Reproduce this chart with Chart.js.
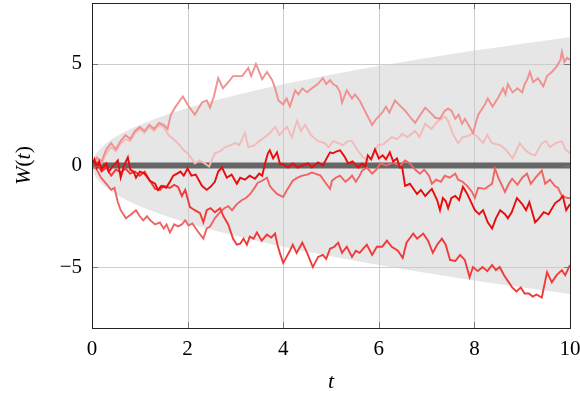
<!DOCTYPE html>
<html>
<head>
<meta charset="utf-8">
<script src="https://cdn.jsdelivr.net/npm/chart.js@4.4.1/dist/chart.umd.min.js"></script>
<style>
  html, body { margin: 0; padding: 0; background: #fff; }
</style>
</head>
<body>
<canvas id="chart" width="580" height="394"></canvas>
<script>
const xTicks = [0, 2, 4, 6, 8, 10];
const yTicks = [-5, 0, 5];

// +/- 2 sigma envelope
const bandT = [0, 0.05, 0.1, 0.25, 0.5, 0.75, 1, 1.5, 2, 2.5, 3, 4, 5, 6, 7, 8, 9, 10];
const bandUpper = [0, 0.45, 0.63, 1.0, 1.41, 1.73, 2.0, 2.45, 2.83, 3.16, 3.46, 4.0, 4.47, 4.9, 5.29, 5.66, 6.0, 6.32];
const bandLower = [0, -0.45, -0.63, -1.0, -1.41, -1.73, -2.0, -2.45, -2.83, -3.16, -3.46, -4.0, -4.47, -4.9, -5.29, -5.66, -6.0, -6.32];

const meanT = [0, 10];
const meanW = [0, 0];

// sample paths as [t, W(t)]
const pathPink = [[0,0],[0.1,0.3],[0.2,0.1],[0.3,0.6],[0.4,0.9],[0.5,0.7],[0.6,1.1],[0.7,1.3],[0.8,1.2],[0.9,1.6],[1.0,1.8],[1.1,1.6],[1.2,1.9],[1.3,1.7],[1.4,2.0],[1.5,1.9],[1.6,1.5],[1.7,1.3],[1.8,1.1],[1.9,0.8],[2.0,0.6],[2.1,0.3],[2.15,0.1],[2.25,0.25],[2.36,0.1],[2.45,-0.05],[2.57,0.6],[2.68,0.7],[2.78,0.9],[2.9,1.0],[3.0,1.1],[3.08,1.0],[3.2,1.6],[3.27,0.9],[3.4,1.0],[3.5,1.2],[3.62,1.4],[3.72,1.6],[3.83,1.9],[3.92,1.5],[4.0,1.7],[4.08,1.9],[4.18,1.4],[4.29,2.2],[4.37,1.7],[4.46,2.0],[4.58,1.5],[4.73,1.2],[4.87,1.1],[4.95,0.9],[5.05,1.2],[5.15,1.1],[5.25,1.0],[5.35,1.2],[5.44,1.2],[5.57,0.7],[5.67,0.4],[5.77,0.25],[5.87,0.4],[5.98,1.0],[6.1,1.05],[6.27,1.4],[6.38,1.3],[6.49,1.55],[6.6,1.4],[6.76,1.7],[6.85,1.4],[6.97,2.05],[7.1,1.8],[7.24,2.2],[7.38,2.4],[7.45,2.2],[7.55,1.55],[7.66,1.1],[7.76,1.4],[7.87,1.45],[7.97,1.6],[8.07,1.4],[8.18,1.1],[8.27,1.5],[8.37,1.1],[8.54,1.0],[8.65,0.8],[8.8,0.35],[8.95,1.1],[9.05,0.8],[9.15,0.6],[9.27,0.5],[9.41,1.1],[9.5,1.2],[9.58,0.9],[9.7,1.1],[9.83,1.2],[9.9,0.8],[10,0.6]];

const pathSalmon = [[0,0],[0.1,0.4],[0.2,0.2],[0.3,0.8],[0.4,1.1],[0.5,0.8],[0.6,1.2],[0.7,1.5],[0.8,1.3],[0.9,1.7],[1.0,1.9],[1.1,1.7],[1.2,2.0],[1.3,1.8],[1.4,2.1],[1.5,2.0],[1.58,1.8],[1.65,2.5],[1.75,2.9],[1.9,3.4],[2.0,3.0],[2.15,2.5],[2.3,3.1],[2.4,3.2],[2.47,2.85],[2.55,3.4],[2.64,4.3],[2.74,3.8],[2.85,4.1],[2.95,4.4],[3.05,4.4],[3.14,4.4],[3.27,4.8],[3.33,4.4],[3.43,5.0],[3.56,4.25],[3.66,4.6],[3.77,4.2],[3.83,3.8],[3.9,3.2],[4.0,3.0],[4.07,3.3],[4.14,2.9],[4.25,3.7],[4.32,3.5],[4.4,3.8],[4.5,3.6],[4.6,3.8],[4.72,4.0],[4.83,4.3],[4.9,4.0],[4.98,4.2],[5.05,4.0],[5.12,3.9],[5.19,3.6],[5.23,3.1],[5.33,3.7],[5.44,3.3],[5.5,3.5],[5.6,3.2],[5.75,2.5],[5.86,2.0],[5.95,2.3],[6.07,2.6],[6.15,2.9],[6.22,2.6],[6.34,3.2],[6.42,3.0],[6.55,2.7],[6.65,2.4],[6.76,2.1],[6.87,2.5],[6.97,2.85],[7.08,2.6],[7.18,2.35],[7.28,2.3],[7.38,2.7],[7.45,2.8],[7.52,2.7],[7.6,2.3],[7.67,2.5],[7.74,2.05],[7.8,2.3],[7.9,1.9],[7.97,1.6],[8.08,2.5],[8.22,3.0],[8.28,3.3],[8.38,2.9],[8.5,3.35],[8.6,3.8],[8.65,3.5],[8.7,4.0],[8.8,3.6],[8.9,3.8],[9.0,3.6],[9.05,4.0],[9.1,4.2],[9.16,4.6],[9.23,4.1],[9.33,4.3],[9.44,3.9],[9.52,4.4],[9.62,4.6],[9.73,4.9],[9.8,5.2],[9.83,5.6],[9.88,5.1],[9.94,5.3],[10,5.2]];

const pathMid = [[0,0],[0.1,-0.2],[0.19,-0.6],[0.3,-0.9],[0.4,-1.2],[0.47,-1.1],[0.54,-1.8],[0.6,-2.2],[0.71,-2.6],[0.82,-2.4],[0.92,-2.2],[1.0,-2.5],[1.07,-2.7],[1.15,-2.5],[1.22,-2.7],[1.32,-2.9],[1.42,-2.8],[1.5,-3.1],[1.56,-2.9],[1.63,-3.3],[1.72,-2.9],[1.8,-3.0],[1.88,-2.9],[1.95,-2.7],[2.02,-2.95],[2.1,-2.85],[2.2,-3.2],[2.33,-3.6],[2.4,-3.1],[2.47,-3.0],[2.57,-2.6],[2.68,-2.3],[2.77,-2.1],[2.85,-2.0],[2.93,-2.2],[3.03,-1.9],[3.14,-1.7],[3.22,-1.6],[3.31,-1.4],[3.4,-1.1],[3.47,-0.85],[3.56,-0.75],[3.66,-0.6],[3.72,-1.0],[3.77,-1.15],[3.87,-1.4],[4.0,-1.55],[4.08,-1.2],[4.2,-0.75],[4.3,-0.6],[4.4,-0.5],[4.5,-0.45],[4.6,-0.35],[4.67,-0.4],[4.78,-0.5],[4.9,-0.9],[4.98,-1.15],[5.02,-0.75],[5.1,-0.6],[5.19,-0.5],[5.3,-0.8],[5.38,-0.65],[5.44,-0.5],[5.52,-0.8],[5.6,-0.5],[5.65,-0.25],[5.75,-0.1],[5.86,-0.4],[5.95,-0.2],[6.03,0.1],[6.15,0.0],[6.3,0.15],[6.45,0.0],[6.55,0.25],[6.65,0.1],[6.76,-0.2],[6.86,-0.4],[6.95,-0.2],[7.05,-0.5],[7.11,-0.9],[7.2,-0.7],[7.3,-0.8],[7.38,-0.5],[7.48,-0.6],[7.6,-0.4],[7.66,-0.7],[7.75,-0.8],[7.85,-1.0],[7.95,-1.3],[8.01,-1.6],[8.08,-1.1],[8.22,-1.15],[8.37,-0.9],[8.43,-0.15],[8.5,-0.6],[8.64,-1.3],[8.72,-0.9],[8.79,-0.65],[8.9,-0.95],[9.0,-0.6],[9.1,-0.4],[9.18,-0.9],[9.28,-0.6],[9.41,-0.25],[9.48,-0.9],[9.58,-0.7],[9.68,-1.0],[9.75,-1.1],[9.83,-1.5],[9.94,-1.6],[10,-1.6]];

const pathLow = [[0,0],[0.1,0.15],[0.2,-0.3],[0.3,-0.1],[0.4,-0.5],[0.5,-0.2],[0.6,-0.35],[0.7,-0.15],[0.8,-0.4],[0.9,-0.3],[1.0,-0.5],[1.1,-0.3],[1.2,-0.7],[1.32,-1.15],[1.42,-1.2],[1.5,-1.0],[1.63,-1.1],[1.72,-0.95],[1.8,-1.05],[1.88,-1.5],[1.95,-1.2],[2.05,-2.05],[2.15,-2.2],[2.26,-2.35],[2.33,-2.8],[2.4,-2.2],[2.48,-2.1],[2.57,-2.3],[2.68,-2.1],[2.75,-2.5],[2.85,-2.9],[2.95,-3.6],[3.03,-3.9],[3.1,-3.85],[3.17,-3.6],[3.24,-3.9],[3.3,-3.5],[3.38,-3.6],[3.45,-3.3],[3.55,-3.7],[3.66,-3.4],[3.75,-3.55],[3.83,-3.35],[3.88,-3.9],[3.93,-4.3],[4.0,-4.8],[4.07,-4.5],[4.14,-4.2],[4.2,-3.9],[4.28,-4.3],[4.4,-3.8],[4.5,-4.3],[4.62,-5.0],[4.73,-4.5],[4.83,-4.4],[4.9,-4.6],[4.98,-4.1],[5.07,-4.0],[5.15,-3.8],[5.23,-4.3],[5.33,-4.0],[5.44,-4.5],[5.52,-4.2],[5.6,-4.3],[5.67,-4.1],[5.75,-3.9],[5.86,-4.4],[5.96,-4.0],[6.07,-4.0],[6.17,-3.7],[6.27,-4.0],[6.4,-4.2],[6.5,-4.55],[6.58,-3.8],[6.72,-3.35],[6.8,-3.6],[6.93,-3.35],[7.03,-3.7],[7.13,-4.3],[7.22,-3.9],[7.32,-3.6],[7.4,-3.9],[7.49,-4.65],[7.6,-4.7],[7.7,-4.4],[7.8,-4.65],[7.9,-5.5],[7.97,-5.0],[8.07,-5.2],[8.17,-5.0],[8.27,-5.2],[8.37,-4.9],[8.45,-5.15],[8.53,-5.0],[8.62,-5.4],[8.79,-6.0],[8.88,-6.2],[8.97,-6.0],[9.05,-6.3],[9.14,-6.3],[9.22,-6.45],[9.3,-6.35],[9.41,-6.5],[9.52,-5.25],[9.62,-5.75],[9.72,-5.4],[9.83,-5.15],[9.9,-5.4],[10,-4.9]];

const pathRed = [[0,0],[0.05,0.3],[0.1,-0.1],[0.15,0.2],[0.2,-0.2],[0.3,0.1],[0.35,-0.3],[0.45,0.0],[0.54,0.25],[0.6,-0.6],[0.67,0.0],[0.75,0.4],[0.8,-0.2],[0.87,-0.3],[0.92,-0.6],[1.0,-0.3],[1.1,-0.4],[1.21,-0.75],[1.32,-0.9],[1.38,-1.2],[1.45,-1.0],[1.55,-1.1],[1.63,-0.8],[1.7,-0.5],[1.78,-0.4],[1.85,-0.3],[1.92,-0.5],[2.0,-0.15],[2.08,-0.5],[2.17,-0.45],[2.3,-1.0],[2.4,-1.2],[2.48,-1.05],[2.57,-0.8],[2.64,-0.3],[2.72,-0.1],[2.82,-0.6],[2.92,-0.45],[3.03,-0.9],[3.1,-0.6],[3.2,-0.7],[3.3,-0.5],[3.41,-0.65],[3.5,-0.4],[3.56,-0.5],[3.62,0.1],[3.68,0.6],[3.72,0.75],[3.79,0.35],[3.87,0.65],[3.93,0.1],[4.0,0.05],[4.1,-0.1],[4.2,0.1],[4.3,-0.1],[4.4,0.0],[4.52,0.1],[4.6,-0.1],[4.73,0.15],[4.83,0.0],[4.92,0.4],[4.98,0.65],[5.04,0.6],[5.12,0.7],[5.19,0.75],[5.28,0.45],[5.36,0.1],[5.45,0.2],[5.57,-0.1],[5.65,0.1],[5.72,-0.05],[5.77,0.5],[5.84,0.3],[5.92,0.8],[6.0,0.35],[6.08,0.5],[6.15,0.3],[6.23,0.65],[6.3,0.2],[6.38,0.35],[6.44,-0.1],[6.49,-0.1],[6.55,-1.0],[6.65,-0.9],[6.8,-1.4],[6.88,-1.2],[6.97,-1.5],[7.11,-1.15],[7.22,-1.7],[7.28,-2.2],[7.34,-1.6],[7.4,-1.75],[7.45,-2.1],[7.52,-1.6],[7.6,-1.5],[7.68,-1.7],[7.76,-1.05],[7.85,-1.4],[8.01,-2.2],[8.1,-2.4],[8.18,-2.2],[8.28,-2.8],[8.37,-3.1],[8.45,-2.6],[8.54,-2.2],[8.64,-2.4],[8.7,-2.6],[8.78,-2.3],[8.89,-1.6],[9.0,-1.9],[9.08,-2.2],[9.15,-1.8],[9.27,-2.8],[9.35,-2.6],[9.45,-2.3],[9.55,-2.4],[9.69,-1.85],[9.78,-1.7],[9.85,-1.5],[9.92,-2.2],[10,-1.9]];

const serif = '"Liberation Serif", "DejaVu Serif", serif';

const pts = pairs => pairs.map(([t, w]) => ({ x: t, y: w }));
const zip = (ts, ws) => ts.map((t, i) => ({ x: t, y: ws[i] }));

function pathSet(pairs, color) {
    return { data: pts(pairs), borderColor: color, borderWidth: 1.9, pointRadius: 0, fill: false, tension: 0 };
}

// grid drawn on top of the grey band but under the paths
const gridOverBand = {
    id: 'gridOverBand',
    afterDatasetDraw(chart, args) {
        if (args.index !== 6) return;
        const { ctx, chartArea: a, scales: { x, y } } = chart;
        ctx.save();
        ctx.strokeStyle = '#cccccc';
        ctx.lineWidth = 1;
        ctx.beginPath();
        xTicks.forEach(v => {
            const px = Math.round(x.getPixelForValue(v)) + 0.5;
            ctx.moveTo(px, a.top);
            ctx.lineTo(px, a.bottom);
        });
        yTicks.forEach(v => {
            const py = Math.round(y.getPixelForValue(v)) + 0.5;
            ctx.moveTo(a.left, py);
            ctx.lineTo(a.right, py);
        });
        ctx.stroke();
        ctx.restore();
    }
};

const frameAndTitles = {
    id: 'frameAndTitles',
    afterDraw(chart) {
        const { ctx, chartArea: a, scales: { x, y } } = chart;
        ctx.save();
        // inward ticks
        ctx.strokeStyle = '#777';
        ctx.lineWidth = 1;
        ctx.beginPath();
        xTicks.forEach(v => {
            const px = Math.round(x.getPixelForValue(v)) + 0.5;
            ctx.moveTo(px, a.bottom); ctx.lineTo(px, a.bottom - 6);
            ctx.moveTo(px, a.top); ctx.lineTo(px, a.top + 6);
        });
        yTicks.forEach(v => {
            const py = Math.round(y.getPixelForValue(v)) + 0.5;
            ctx.moveTo(a.left, py); ctx.lineTo(a.left + 6, py);
            ctx.moveTo(a.right, py); ctx.lineTo(a.right - 6, py);
        });
        ctx.stroke();
        // frame
        ctx.strokeStyle = '#222';
        ctx.strokeRect(Math.round(a.left) + 0.5, Math.round(a.top) + 0.5,
            Math.round(a.right - a.left), Math.round(a.bottom - a.top));

        // x title: t
        ctx.fillStyle = '#000';
        ctx.textAlign = 'center';
        ctx.textBaseline = 'alphabetic';
        ctx.font = 'italic 22px ' + serif;
        ctx.fillText('t', (a.left + a.right) / 2, 388);

        // y title: W(t), rotated
        const parts = [['W', 'italic'], ['(', 'normal'], ['t', 'italic'], [')', 'normal']];
        ctx.translate(30, (a.top + a.bottom) / 2);
        ctx.rotate(-Math.PI / 2);
        let total = 0;
        parts.forEach(([s, st]) => { ctx.font = st + ' 22px ' + serif; total += ctx.measureText(s).width; });
        let cx = -total / 2;
        ctx.textAlign = 'left';
        parts.forEach(([s, st]) => {
            ctx.font = st + ' 22px ' + serif;
            ctx.fillText(s, cx, 0);
            cx += ctx.measureText(s).width;
        });
        ctx.restore();
    }
};

new Chart(document.getElementById('chart'), {
    type: 'line',
    data: {
        datasets: [
            pathSet(pathRed, '#e80c0c'),
            pathSet(pathLow, '#f03a3a'),
            pathSet(pathMid, '#f06464'),
            pathSet(pathSalmon, '#f09090'),
            pathSet(pathPink, '#f3baba'),
            { data: zip(meanT, meanW), borderColor: '#666666', borderWidth: 6, pointRadius: 0, fill: false },
            { data: zip(bandT, bandUpper), borderWidth: 0, pointRadius: 0, fill: false, cubicInterpolationMode: 'monotone' },
            { data: zip(bandT, bandLower), borderWidth: 0, pointRadius: 0, fill: '-1', backgroundColor: '#e6e6e6', cubicInterpolationMode: 'monotone' }
        ]
    },
    options: {
        responsive: false,
        animation: false,
        devicePixelRatio: 1,
        layout: { padding: { top: 3, right: 10, left: 0, bottom: 0 } },
        plugins: { legend: { display: false }, tooltip: { enabled: false } },
        scales: {
            x: {
                type: 'linear',
                min: 0,
                max: 10,
                afterBuildTicks: s => { s.ticks = xTicks.map(v => ({ value: v })); },
                afterFit: s => { s.height = 66; s.paddingLeft = 0; s.paddingRight = 0; },
                grid: { display: false, drawTicks: false },
                border: { display: false },
                ticks: { color: '#000', font: { family: serif, size: 21 }, padding: 9, maxRotation: 0, autoSkip: false }
            },
            y: {
                min: -8,
                max: 8,
                afterBuildTicks: s => { s.ticks = yTicks.map(v => ({ value: v })); },
                afterFit: s => { s.width = 92; s.paddingTop = 0; s.paddingBottom = 0; },
                grid: { display: false, drawTicks: false },
                border: { display: false },
                ticks: {
                    color: '#000',
                    font: { family: serif, size: 21 },
                    padding: 10,
                    callback: v => (v < 0 ? '\u2212' + Math.abs(v) : String(v))
                }
            }
        }
    },
    plugins: [gridOverBand, frameAndTitles]
});
</script>
</body>
</html>
